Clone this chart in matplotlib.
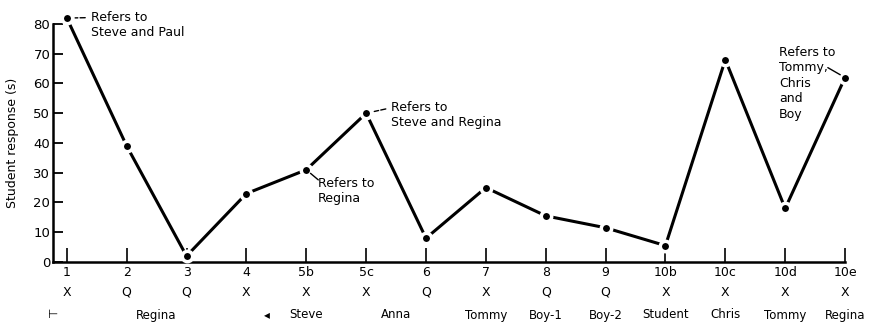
import matplotlib
matplotlib.use("Agg")
import matplotlib.pyplot as plt
import matplotlib.transforms as mtransforms

# ---- data ----
episodes = ["1", "2", "3", "4", "5b", "5c", "6", "7", "8", "9", "10b", "10c", "10d", "10e"]
move_type = ["X", "Q", "Q", "X", "X", "X", "Q", "X", "Q", "Q", "X", "X", "X", "X"]
response = [82, 39, 2, 23, 31, 50, 8, 25, 15.5, 11.5, 5.5, 68, 18, 62]
speakers = ["⊢", "Regina", "◂", "Steve", "Anna", "Tommy", "Boy-1", "Boy-2",
            "Student", "Chris", "Tommy", "Regina"]
speaker_pos = [-0.23, 1.5, 3.35, 4.0, 5.5, 7, 8, 9, 10, 11, 12, 13]

plt.rcParams['font.family'] = ['DejaVu Sans']
fig = plt.figure(figsize=(8.71, 3.23), dpi=100)
ax = fig.add_axes([0.0609, 0.1889, 0.9093, 0.7368])

x = list(range(len(episodes)))
ax.plot(x, response, color='black', lw=2.2, marker='o', ms=7.5,
        mfc='black', mec='white', mew=2.5, clip_on=False, zorder=3)

ax.set_xlim(-0.23, 13.0)
ax.set_ylim(0, 80)
for s in ['top', 'right']:
    ax.spines[s].set_visible(False)
for s in ['left', 'bottom']:
    ax.spines[s].set_linewidth(1.8)

ax.set_yticks(range(0, 81, 10))
ax.tick_params(axis='y', direction='in', length=7, width=1.3, labelsize=9.5, pad=2)
ax.set_xticks(x)
ax.set_xticklabels(episodes)
ax.tick_params(axis='x', direction='in', length=10, width=1.2, labelsize=9, pad=3)
ax.set_ylabel("Student response (s)", fontsize=9)
ax.yaxis.set_label_coords(-0.043, 0.5)

trans = mtransforms.blended_transform_factory(ax.transData, fig.transFigure)
for xi, m in zip(x, move_type):
    ax.text(xi, 1 - 292 / 323, m, transform=trans, ha='center', va='center', fontsize=9)
for p, s in zip(speaker_pos, speakers):
    ax.text(p, 1 - 315 / 323, s, transform=trans, ha='center', va='center', fontsize=8.5)

fs = 9
ax.annotate("Refers to\nSteve and Paul", xy=(0, 82), xytext=(0.4, 79.8),
            fontsize=fs, va='center', ha='left', annotation_clip=False,
            arrowprops=dict(arrowstyle='-', ls='--', lw=1, color='black',
                            shrinkA=2, shrinkB=6, relpos=(0, 0.75)))
ax.annotate("Refers to\nSteve and Regina", xy=(5, 50), xytext=(5.42, 49.5),
            fontsize=fs, va='center', ha='left', annotation_clip=False,
            arrowprops=dict(arrowstyle='-', ls='--', lw=1, color='black',
                            shrinkA=2, shrinkB=6, relpos=(0, 0.75)))
ax.annotate("Refers to\nRegina", xy=(4, 31), xytext=(4.2, 24),
            fontsize=fs, va='center', ha='left', annotation_clip=False,
            arrowprops=dict(arrowstyle='-', lw=1, color='black', patchA=None,
                            shrinkA=1, shrinkB=4, relpos=(0.02, 0.85)))
ax.annotate("Refers to\nTommy,\nChris\nand\nBoy", xy=(13, 62), xytext=(11.9, 60),
            fontsize=fs, va='center', ha='left', linespacing=1.25,
            annotation_clip=False,
            arrowprops=dict(arrowstyle='-', lw=1, color='black', patchA=None,
                            shrinkA=2, shrinkB=4, relpos=(0.82, 0.73)))

fig.savefig("out.png", dpi=100)
